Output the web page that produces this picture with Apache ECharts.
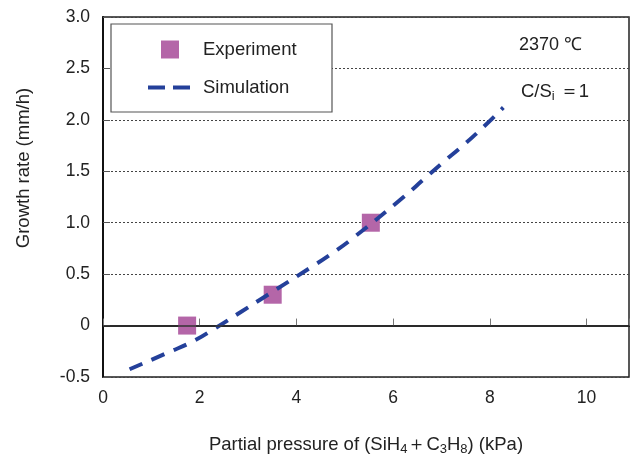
<!DOCTYPE html>
<html><head><meta charset="utf-8">
<script src="https://cdn.jsdelivr.net/npm/echarts@6/dist/echarts.min.js"></script>
<style>html,body{margin:0;padding:0;background:#fff}#c{width:632px;height:457px}</style>
</head><body><div id="c"></div>
<script>
const seriesNames = ['Experiment', 'Simulation'];
const expX = [1.74, 3.51, 5.54];
const expY = [0.0, 0.30, 1.0];
const simX = [0.55, 1.34, 1.85, 2.33, 2.81, 3.24, 4.27, 4.74, 5.18, 6.21, 6.63, 7.04, 7.47, 7.89, 8.28];
const simY = [-0.425, -0.263, -0.156, -0.023, 0.12, 0.249, 0.557, 0.703, 0.854, 1.247, 1.42, 1.59, 1.76, 1.94, 2.12];
const xTickLabels = [0, 2, 4, 6, 8, 10];
const xTitle = 'Partial pressure of (SiH{s|4}＋C{s|3}H{s|8}) (kPa)';
const yTitle = 'Growth rate (mm/h)';
const note1 = '2370 ℃';
const note2 = 'C/S{s|i} ＝1';

const FONT = '"Liberation Sans", Arial, sans-serif';
const chart = echarts.init(document.getElementById('c'));
chart.setOption({
  animation: false,
  backgroundColor: '#fff',
  textStyle: { fontFamily: FONT },
  grid: { left: 103, right: 3, top: 17, bottom: 80, containLabel: false, outerBoundsMode: 'none',
    show: true, borderColor: '#222', borderWidth: 1.5, backgroundColor: 'transparent' },
  xAxis: {
    type: 'value', min: 0, max: 10.88, interval: 2,
    name: xTitle, nameLocation: 'middle', nameGap: 57,
    nameTextStyle: { fontSize: 18.5, color: '#222', fontFamily: FONT,
      rich: { s: { fontSize: 13, color: '#222', padding: [9, 0, 0, 0], fontFamily: FONT } } },
    axisLine: { lineStyle: { color: '#111', width: 2 } },
    axisTick: { inside: true, length: 7, lineStyle: { color: '#777', width: 1 } },
    axisLabel: { fontSize: 17.5, color: '#222', margin: 12,
      formatter: v => xTickLabels.includes(v) ? String(v) : '' },
    splitLine: { show: false }
  },
  yAxis: {
    type: 'value', min: -0.5, max: 3.0, interval: 0.5,
    axisLine: { show: true, lineStyle: { color: '#111', width: 2 } },
    axisTick: { show: true, inside: true, length: 7, lineStyle: { color: '#555', width: 1 } },
    axisLabel: { fontSize: 17.5, color: '#222', margin: 13,
      formatter: v => v === 0 ? '0' : v.toFixed(1) },
    splitLine: { show: true, lineStyle: { color: '#444', width: 1, type: [2, 2] } }
  },
  legend: [
    { data: [seriesNames[0]], left: 161, top: 40, padding: 0, itemWidth: 18, itemHeight: 18, icon: 'rect',
      textStyle: { fontSize: 18.5, color: '#222', padding: [0, 0, 0, 19] }, z: 6 },
    { data: [seriesNames[1]], left: 148, top: 78, padding: 0, itemWidth: 42, itemHeight: 4,
      icon: 'path://M0,0H17V4H0Z M25,0H42V4H25Z',
      textStyle: { fontSize: 18.5, color: '#222', padding: [0, 0, 0, 8] }, z: 6 }
  ],
  graphic: [
    { type: 'rect', shape: { x: 111, y: 24, width: 221, height: 88 }, z: 5,
      style: { fill: '#fff', stroke: '#555', lineWidth: 1.2 } },
    { type: 'text', x: 24, y: 168, rotation: Math.PI / 2, z: 5,
      style: { text: yTitle, fill: '#222', font: '18.5px ' + FONT, align: 'center', verticalAlign: 'middle' } },
    { type: 'text', x: 519, y: 45, z: 5,
      style: { text: note1, fontSize: 18, fill: '#222', fontFamily: FONT, align: 'left', verticalAlign: 'middle' } },
    { type: 'text', x: 521, y: 92, z: 5,
      style: { text: note2, fontSize: 18.5, fill: '#222', fontFamily: FONT, align: 'left', verticalAlign: 'middle',
        rich: { s: { fontSize: 13, fill: '#222', fontFamily: FONT, padding: [9, 0, 0, 0] } } } }
  ],
  series: [
    { name: seriesNames[0], type: 'scatter', symbol: 'rect', symbolSize: 18, z: 3,
      itemStyle: { color: '#b466a8', opacity: 1 },
      data: expX.map((x, i) => [x, expY[i]]),
      markLine: { silent: true, symbol: 'none', label: { show: false },
        lineStyle: { color: '#333', width: 1.5, type: 'solid' }, data: [{ yAxis: 0 }] } },
    { name: seriesNames[1], type: 'line', smooth: true, showSymbol: false, symbol: 'none', z: 4,
      itemStyle: { color: '#24409a' },
      lineStyle: { color: '#24409a', width: 4, type: [14, 10] },
      data: simX.map((x, i) => [x, simY[i]]) }
  ]
});
</script></body></html>
